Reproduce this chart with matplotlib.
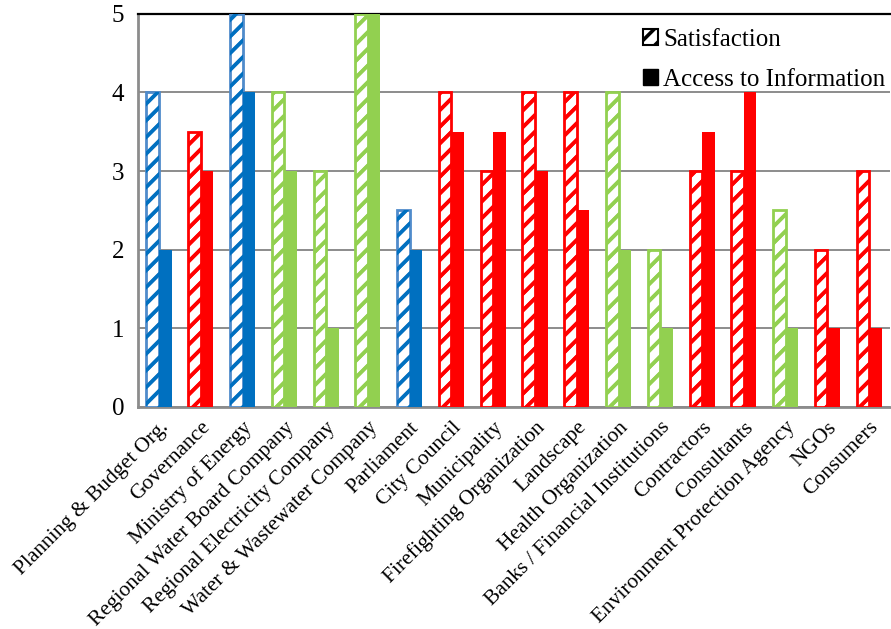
import matplotlib
matplotlib.use("Agg")
import matplotlib.pyplot as plt
from matplotlib.patches import Patch
import numpy as np

categories = [
    "Planning & Budget Org.", "Governance", "Ministry of Energy",
    "Regional Water Board Company", "Regional Electricity Company",
    "Water & Wastewater Company", "Parliament", "City Council",
    "Municipality", "Firefighting Organization", "Landscape",
    "Health Organization", "Banks / Financial Institutions", "Contractors",
    "Consultants", "Environment Protection Agency", "NGOs", "Consumers",
]
satisfaction = [4, 3.5, 5, 4, 3, 5, 2.5, 4, 3, 4, 4, 4, 2, 3, 3, 2.5, 2, 3]
access_info = [2, 3, 4, 3, 1, 5, 2, 3.5, 3.5, 3, 2.5, 2, 1, 3.5, 4, 1, 1, 1]
groups = ["blue", "red", "blue", "green", "green", "green", "blue", "red",
          "red", "red", "red", "green", "green", "red", "red", "green", "red", "red"]

fill = {"blue": "#0070C0", "red": "#FF0000", "green": "#92D050"}
edge = {"blue": "#4F8BCB", "red": "#FF0000", "green": "#92D050"}

plt.rcParams["font.family"] = ["Liberation Serif", "DejaVu Serif"]
plt.rcParams["hatch.linewidth"] = 2.6

fig = plt.figure(figsize=(8.91, 6.29), dpi=100)
ax = fig.add_axes([0.155, 0.353, 0.844, 0.625])

x = np.arange(len(categories))
w = 0.30
for i, g in enumerate(groups):
    # hatched outline bar for satisfaction
    ax.bar(x[i] - w / 2, satisfaction[i], w, facecolor="white",
           edgecolor=edge[g], hatch="//", linewidth=2.0, zorder=3)
    # stripes in the group's fill colour on top
    ax.bar(x[i] - w / 2, satisfaction[i], w, facecolor="none",
           edgecolor=fill[g], hatch="//", linewidth=0, zorder=3)
    # solid bar for access to information
    ax.bar(x[i] + w / 2, access_info[i], w, color=fill[g], linewidth=0, zorder=3)

ax.set_xlim(-0.5, len(categories) - 0.5)
ax.set_ylim(0, 5)
ax.set_yticks([0, 1, 2, 3, 4, 5])
ax.set_xticks(x)
ax.set_xticklabels(categories, rotation=45, ha="right", va="top",
                   rotation_mode="anchor", fontsize=15.5)
ax.tick_params(axis="y", labelsize=18, length=0, pad=10)
ax.tick_params(axis="x", length=0, pad=8)
ax.yaxis.grid(True, color="#8C8C8C", linewidth=1.4, zorder=0)
ax.set_axisbelow(True)

for s in ("left", "bottom"):
    ax.spines[s].set_color("#8C8C8C")
    ax.spines[s].set_linewidth(2)
ax.spines["top"].set_color("black")
ax.spines["top"].set_linewidth(1.6)
ax.spines["right"].set_visible(False)

handles = [
    Patch(facecolor="white", edgecolor="black", hatch="//", linewidth=1.5,
          label="Satisfaction"),
    Patch(facecolor="black", edgecolor="black", label="Access to Information"),
]
leg = ax.legend(handles=handles, loc="upper right", bbox_to_anchor=(1.0, 0.975),
                fontsize=18, frameon=False, handlelength=0.6, handleheight=0.6,
                handletextpad=0.2, labelspacing=0.72, borderaxespad=0.0,
                borderpad=0.2)
leg.set_zorder(5)

fig.savefig("out.png", dpi=100)
